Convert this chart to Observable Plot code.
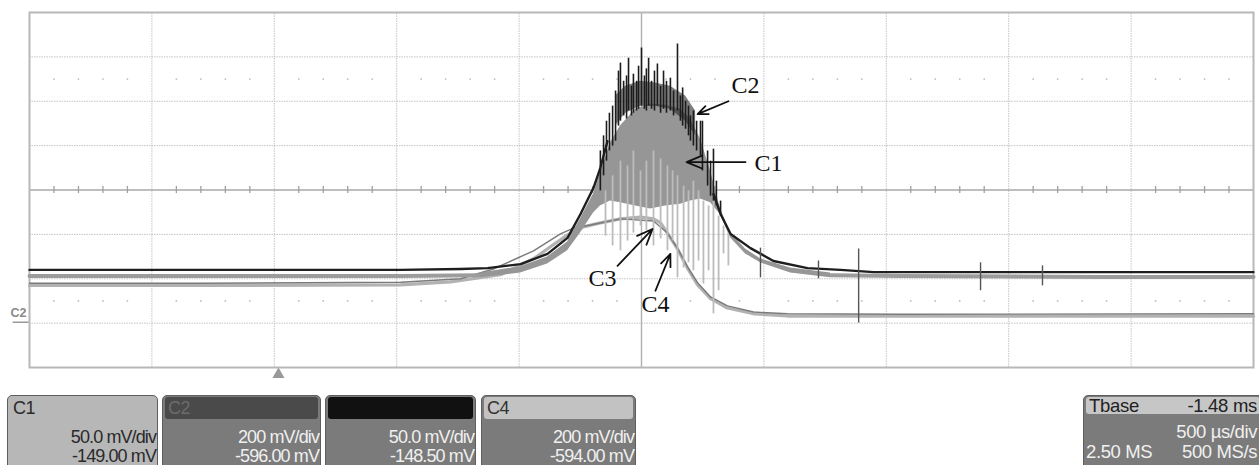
<!DOCTYPE html>
<html><head><meta charset="utf-8">
<script src="https://cdn.jsdelivr.net/npm/d3@7"></script>
<script src="https://cdn.jsdelivr.net/npm/@observablehq/plot@0.6"></script>
<style>
body{margin:0;background:#fff;width:1259px;height:465px;overflow:hidden;font-family:"Liberation Sans",Arial,sans-serif}
#panel{position:relative;height:80px}
.box{position:absolute;top:10px;height:76px;border:1.5px solid #5e5e5e;border-radius:5px;background:#7b7b7b;box-sizing:border-box;overflow:hidden}
.hdr{height:22px;margin:1px 2px 0 2px;border-radius:3px;font-size:18px;line-height:22px;padding:0 3px;display:flex;justify-content:space-between;letter-spacing:-0.5px}
.vals{margin-top:9px}
.val{text-align:right;font-size:18px;line-height:19px;padding-right:1px;color:#f0f0f0;letter-spacing:-0.9px;white-space:nowrap}
</style></head><body>
<div id="chart"></div><div id="panel"></div>
<script>
// ---- data (time in µs from left edge of screen, value in screen divisions) ----
const c2Rise = [[0,-1.80],[494,-1.80],[1107,-1.80],[1516,-1.80],[1761,-1.78],[1871,-1.76],[2006,-1.67],[2116,-1.44],[2198,-1.08],[2251,-0.54],[2304,0.05],[2332,0.50],[2361,1.10]];
const c2Fall = [[2794,-0.09],[2823,-0.54],[2864,-0.99],[2945,-1.31],[3039,-1.60],[3178,-1.76],[3313,-1.80],[3448,-1.85],[3967,-1.85],[4375,-1.85],[5000,-1.85]];
// C2 noise spikes: time, top, bottom
const c2Spikes = [[2332,0.88,-0.02],[2345,1.22,0.32],[2357,1.55,0.65],[2369,1.73,0.88],[2382,1.89,0.99],[2394,2.23,1.10],[2406,2.68,1.44],[2414,2.86,1.55],[2427,2.45,1.67],[2439,2.57,1.60],[2447,2.97,1.78],[2459,2.34,1.67],[2467,2.61,1.73],[2480,2.45,1.78],[2488,2.79,1.82],[2500,3.20,1.89],[2512,2.57,1.82],[2520,2.73,1.78],[2529,2.97,1.89],[2541,2.45,1.82],[2553,2.68,1.78],[2565,2.84,1.89],[2578,2.34,1.73],[2590,2.68,1.82],[2602,2.45,1.73],[2618,2.52,1.78],[2631,2.23,1.67],[2647,3.29,1.78],[2659,2.12,1.55],[2668,2.30,1.44],[2680,2.00,1.37],[2692,1.89,1.22],[2700,1.67,1.10],[2712,1.78,0.99],[2725,1.55,0.88],[2741,1.55,0.77],[2749,1.55,0.43],[2770,0.88,0.09],[2782,0.65,-0.14],[2794,0.92,-0.25],[2806,0.20,-0.36],[2823,-0.25,-0.59]];
const c2Dense = [[2394,2.12,1.44],[2435,2.34,1.73],[2496,2.45,1.89],[2557,2.41,1.89],[2618,2.34,1.82],[2680,2.12,1.55],[2721,1.78,1.22]];
const c2Glitches = [[2986,-1.31,-1.98],[3223,-1.60,-2.00],[3387,-1.33,-3.00],[3885,-1.64,-2.27],[4138,-1.71,-2.16]];
const c1Left = [[0,-1.94],[699,-1.94],[1516,-1.94],[1842,-1.92]];
const c1Right = [[3272,-1.92],[3558,-1.94],[4375,-1.96],[5000,-1.96]];
const c1EnvT = [1842,2006,2116,2198,2251,2304,2332,2373,2414,2476,2537,2598,2659,2700,2741,2782,2823,2864,2925,2986,3109,3272];
const c1EnvHi = [-1.87,-1.73,-1.51,-1.17,-0.65,-0.09,0.38,1.06,1.44,1.82,1.94,1.91,1.82,1.60,1.15,0.43,-0.43,-0.97,-1.33,-1.55,-1.76,-1.87];
const c1EnvLo = [-1.98,-1.87,-1.67,-1.37,-0.97,-0.52,-0.36,-0.25,-0.29,-0.36,-0.43,-0.36,-0.32,-0.25,-0.20,-0.29,-0.56,-1.08,-1.44,-1.64,-1.87,-1.98];
const c1Spikes = [[2353,-0.02,-1.04],[2382,0.32,-1.26],[2414,0.65,-1.37],[2443,0.54,-1.15],[2467,0.88,-0.97],[2496,0.43,-0.81],[2520,0.65,-0.92],[2549,0.88,-1.26],[2578,0.70,-1.10],[2606,0.54,-1.37],[2627,0.43,-1.15],[2647,0.32,-1.98],[2672,0.09,-1.76],[2692,-0.02,-1.64],[2712,0.20,-1.82],[2733,-0.02,-1.60],[2753,-0.25,-2.12],[2774,-0.36,-1.82],[2794,-0.25,-2.79],[2815,-0.59,-2.27],[2835,-0.81,-1.44],[2855,-0.92,-1.71]];
const c3 = [[0,-2.10],[699,-2.10],[1516,-2.08],[1761,-2.00],[1895,-1.78],[2059,-1.37],[2169,-0.99],[2222,-0.86],[2292,-0.79],[2414,-0.65],[2549,-0.70],[2606,-0.97],[2647,-1.31],[2688,-1.73],[2729,-2.09],[2782,-2.41],[2851,-2.61],[2958,-2.75],[3096,-2.79],[3558,-2.80],[5000,-2.79]];
const c4 = [[0,-2.15],[699,-2.15],[1516,-2.14],[1720,-2.07],[1924,-1.91],[2059,-1.55],[2128,-1.28],[2198,-1.01],[2263,-0.83],[2332,-0.74],[2414,-0.65],[2496,-0.61],[2549,-0.65],[2578,-0.74],[2606,-0.97],[2647,-1.33],[2688,-1.76],[2729,-2.14],[2782,-2.45],[2851,-2.66],[2958,-2.79],[3096,-2.84],[5000,-2.84]];
const labels = [["C2",2925,2.36],["C1",3019,0.61],["C3",2341,-2.00],["C4",2557,-2.57]];
const arrows = [[2855,2.00,2729,1.71],[2925,0.63,2684,0.63],[2402,-1.71,2545,-0.88],[2557,-2.27,2618,-1.44]];
const triggerUs = 1017;
const c2OffsetDiv = -2.98;
const gridX = [500,1000,1500,2000,3000,3500,4000,4500];
const gridY = [-3,-2,-1,1,2,3];
const dotRows = [2.5,-2.5];
// channel boxes
const boxNames = ["C1","C2","","C4"];
const boxScales = ["50.0 mV/div","200 mV/div","50.0 mV/div","200 mV/div"];
const boxOffsets = ["-149.00 mV","-596.00 mV","-148.50 mV","-594.00 mV"];
const tbase = {label:"Tbase", delay:"-1.48 ms", scale:"500 µs/div", points:"2.50 MS", rate:"500 MS/s"};

const minor = d3.range(100, 5000, 100).filter(t => t % 500 !== 0);
const dots = dotRows.flatMap(y => minor.map(t => ({t, y})));
const c1Env = c1EnvT.map((t,i) => ({t, hi: c1EnvHi[i], lo: c1EnvLo[i]}));

const chart = Plot.plot({
  width: 1259, height: 385,
  marginLeft: 29, marginRight: 6, marginTop: 12, marginBottom: 18,
  x: {domain: [0, 5000], axis: null},
  y: {domain: [-4, 4], axis: null},
  style: {background: "#fff", overflow: "visible"},
  marks: [
    Plot.ruleX(gridX, {y1: -4, y2: 4, stroke: "#c4c4c4", strokeWidth: 1, strokeDasharray: "1.5,1"}),
    Plot.ruleY(gridY, {x1: 0, x2: 5000, stroke: "#c4c4c4", strokeWidth: 1, strokeDasharray: "1.5,1"}),
    Plot.dot(dots, {x: "t", y: "y", r: 0.9, fill: "#bbb", stroke: null}),
    Plot.ruleX([2500], {y1: -4, y2: 4, stroke: "#b0b0b0", strokeWidth: 1.4}),
    Plot.ruleY([0], {x1: 0, x2: 5000, stroke: "#a8a8a8", strokeWidth: 1.6}),
    Plot.ruleX(minor, {y1: -0.08, y2: 0.08, stroke: "#a0a0a0", strokeWidth: 1.3}),
    Plot.frame({stroke: "#b8b8b8", strokeWidth: 2}),
    // C4 and C3
    Plot.line(c4, {x: d => d[0], y: d => d[1], stroke: "#b2b2b2", strokeWidth: 3.2}),
    Plot.line(c3, {x: d => d[0], y: d => d[1], stroke: "#7a7a7a", strokeWidth: 1.4}),
    // C1
    Plot.line(c1Left, {x: d => d[0], y: d => d[1], stroke: "#9c9c9c", strokeWidth: 4}),
    Plot.line(c1Right, {x: d => d[0], y: d => d[1], stroke: "#9c9c9c", strokeWidth: 4}),
    Plot.areaY(c1Env, {x: "t", y1: "lo", y2: "hi", fill: "#969696"}),
    Plot.ruleX(c1Spikes, {x: d => d[0], y1: d => d[2], y2: d => d[1], stroke: "#bcbcbc", strokeWidth: 1.8}),
    // C2
    Plot.areaY(c2Dense, {x: d => d[0], y1: d => d[2], y2: d => d[1], fill: "#2a2a2a", fillOpacity: 0.6}),
    Plot.ruleX(c2Spikes, {x: d => d[0], y1: d => d[2], y2: d => d[1], stroke: "#1c1c1c", strokeWidth: 1.6}),
    Plot.line(c2Rise, {x: d => d[0], y: d => d[1], stroke: "#1e1e1e", strokeWidth: 2.4}),
    Plot.line(c2Fall, {x: d => d[0], y: d => d[1], stroke: "#1e1e1e", strokeWidth: 2.4}),
    Plot.ruleX(c2Glitches, {x: d => d[0], y1: d => d[2], y2: d => d[1], stroke: "#555", strokeWidth: 1.4}),
    // annotations
    Plot.arrow(arrows, {x1: d => d[0], y1: d => d[1], x2: d => d[2], y2: d => d[3], stroke: "#111", strokeWidth: 1.8, headLength: 14, headAngle: 45}),
    Plot.text(labels, {x: d => d[1], y: d => d[2], text: d => d[0], fontSize: 24, fontFamily: "Liberation Serif, Times New Roman, serif", fill: "#111"}),
    // trigger and offset marker
    Plot.dot([triggerUs], {x: d => d, frameAnchor: "bottom", dy: 7, symbol: "triangle", r: 4.5, fill: "#999", stroke: null}),
    Plot.text(["C2"], {x: 0, y: c2OffsetDiv, text: d => d, dx: -11, dy: -9, fontSize: 12.5, fontWeight: "bold", fill: "#8a8a8a", fontFamily: "Liberation Sans, Arial"}),
    Plot.link([c2OffsetDiv], {x1: -69, x2: -4, y1: d => d, y2: d => d, stroke: "#999", strokeWidth: 1.5})
  ]
});
document.getElementById("chart").appendChild(chart);

// channel info boxes
const panel = document.getElementById("panel");
const boxLefts = [7, 162, 325, 481];
const boxWidths = [151, 159, 151, 155];
const hdrStyles = [
  {bg: "transparent", color: "#2a2a2a"},
  {bg: "#4a4a4a", color: "#6c6c6c"},
  {bg: "#111", color: "#111"},
  {bg: "#c2c2c2", color: "#333"}
];
boxNames.forEach((name, i) => {
  const b = document.createElement("div");
  b.className = "box";
  b.style.left = boxLefts[i] + "px";
  b.style.width = boxWidths[i] + "px";
  if (i === 0) b.style.background = "#b7b7b7";
  const valColor = i === 0 ? "#2a2a2a" : "#f0f0f0";
  b.innerHTML = `<div class="hdr" style="background:${hdrStyles[i].bg};color:${hdrStyles[i].color}"><span>${name}</span></div>
  <div class="vals"><div class="val" style="color:${valColor}">${boxScales[i]}</div><div class="val" style="color:${valColor}">${boxOffsets[i]}</div></div>`;
  panel.appendChild(b);
});
const tb = document.createElement("div");
tb.className = "box";
tb.style.left = "1083px"; tb.style.width = "180px";
tb.innerHTML = `<div class="hdr" style="background:#c6c6c6;color:#222;height:17px;line-height:18px;font-size:18.5px;letter-spacing:-0.3px"><span>${tbase.label}</span><span>${tbase.delay}</span></div>
<div style="margin-top:8px"><div class="val" style="font-size:18.5px;line-height:20px;padding-right:5px;letter-spacing:-0.4px">${tbase.scale}</div>
<div class="val" style="font-size:18.5px;line-height:20px;display:flex;justify-content:space-between;padding:0 5px 0 2px;letter-spacing:-0.4px"><span>${tbase.points}</span><span>${tbase.rate}</span></div></div>`;
panel.appendChild(tb);
</script></body></html>
